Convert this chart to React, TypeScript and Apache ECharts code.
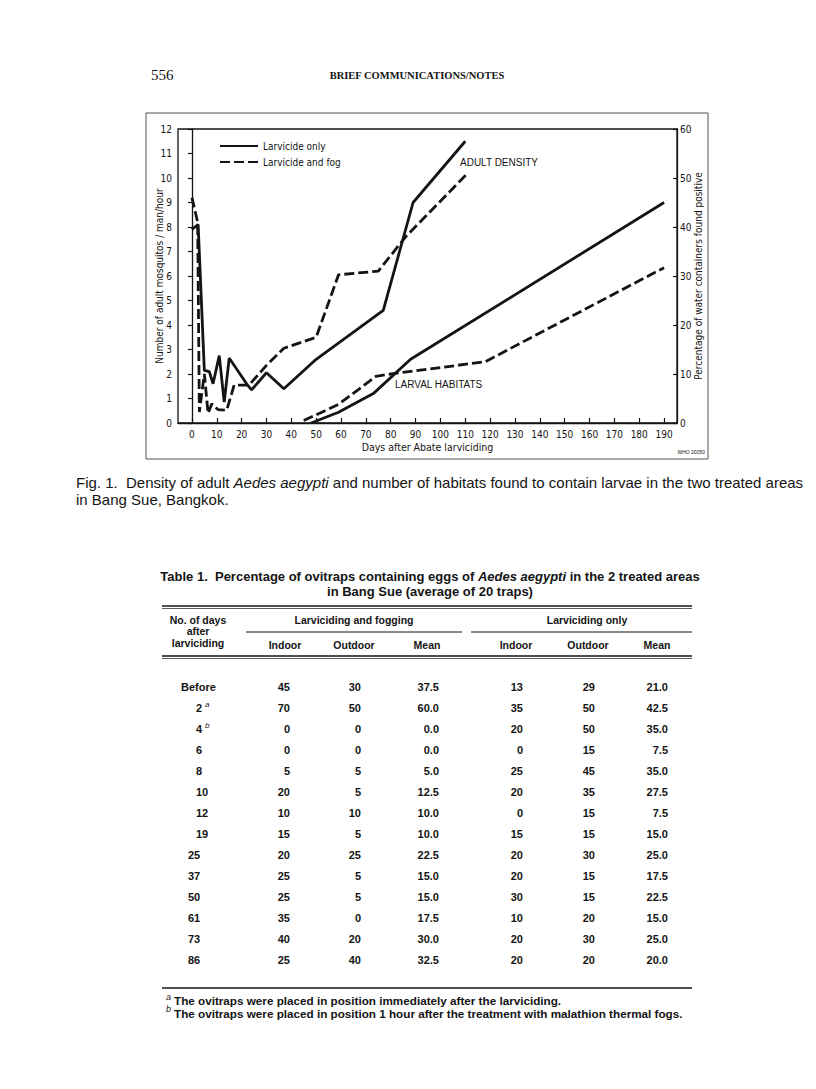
import React, { useEffect, useRef } from 'react';
import * as echarts from 'echarts';

// ---------- Figure data ----------
const tickDays = [0, 10, 20, 30, 40, 50, 60, 70, 80, 90, 100, 110, 120, 130, 140, 150, 160, 170, 180, 190];

// Adult density (left axis, number / man / hour)
const adultLarvicideOnly: [number, number][] = [
  [0, 7.9], [2.5, 8.1], [5, 2.15], [7, 2.1], [8.5, 1.6], [11, 2.75], [13, 0.85], [15, 2.65],
  [22, 1.6], [24, 1.35], [30, 2.05], [37, 1.4], [50, 2.6], [77, 4.6], [89, 9.0], [110, 11.5],
];
const adultLarvicideFog: [number, number][] = [
  [0, 9.2], [2.3, 8.2], [3, 0.45], [5, 2.0], [6.5, 0.4], [8, 0.78], [10.5, 0.55], [14, 0.52],
  [17, 1.55], [23, 1.55], [30, 2.35], [37, 3.05], [50, 3.5], [59, 6.05], [75, 6.2], [86, 7.6], [111, 10.2],
];
// Larval habitats (right axis, % of water containers found positive)
const larvalLarvicideOnly: [number, number][] = [
  [48, 0], [59, 2.2], [73, 6], [88, 13], [190, 45],
];
const larvalLarvicideFog: [number, number][] = [
  [45, 0.5], [59, 3.8], [74, 9.5], [80, 10], [118, 12.5], [190, 31.7],
];

// ---------- Table data ----------
const tableDays = ['Before', '2', '4', '6', '8', '10', '12', '19', '25', '37', '50', '61', '73', '86'];
const tableNotes = ['', 'a', 'b', '', '', '', '', '', '', '', '', '', '', ''];
const fogIndoor = [45, 70, 0, 0, 5, 20, 10, 15, 20, 25, 25, 35, 40, 25];
const fogOutdoor = [30, 50, 0, 0, 5, 5, 10, 5, 25, 5, 5, 0, 20, 40];
const fogMean = [37.5, 60.0, 0.0, 0.0, 5.0, 12.5, 10.0, 10.0, 22.5, 15.0, 15.0, 17.5, 30.0, 32.5];
const onlyIndoor = [13, 35, 20, 0, 25, 20, 0, 15, 20, 20, 30, 10, 20, 20];
const onlyOutdoor = [29, 50, 50, 15, 45, 35, 15, 15, 30, 15, 15, 20, 30, 20];
const onlyMean = [21.0, 42.5, 35.0, 7.5, 35.0, 27.5, 7.5, 15.0, 25.0, 17.5, 22.5, 15.0, 25.0, 20.0];
const subHeaders = ['Indoor', 'Outdoor', 'Mean', 'Indoor', 'Outdoor', 'Mean'];

const INK = '#141414';
const NARROW = "'Liberation Sans Narrow','DejaVu Sans Condensed','Roboto Condensed',sans-serif";
const SANS = "'Liberation Sans',Arial,Helvetica,sans-serif";
const SERIF = "'Liberation Serif','Times New Roman',serif";

function txt(x: number, y: number, text: string, o: any = {}) {
  return {
    type: 'text',
    silent: true,
    x,
    y,
    style: {
      text,
      fill: INK,
      fontFamily: o.fontFamily || SANS,
      fontSize: o.fontSize || 11,
      fontWeight: o.fontWeight || 'normal',
      fontStyle: o.fontStyle || 'normal',
      align: o.align || 'left',
      verticalAlign: 'middle',
      rich: o.rich,
    },
  };
}

function hline(x1: number, x2: number, y: number, w = 1) {
  return {
    type: 'line',
    silent: true,
    shape: { x1, y1: y, x2, y2: y },
    style: { stroke: INK, lineWidth: w },
  };
}

export default function App() {
  const ref = useRef<HTMLDivElement>(null);

  useEffect(() => {
    if (!ref.current) return;
    const chart = echarts.init(ref.current, undefined, { renderer: 'svg' });

    const graphics: any[] = [];
    // page header
    graphics.push(txt(151, 75, '556', { fontFamily: SERIF, fontSize: 15 }));
    graphics.push(txt(417, 75, 'BRIEF COMMUNICATIONS/NOTES', { fontFamily: SERIF, fontSize: 10.5, fontWeight: 'bold', align: 'center' }));
    // figure frame
    graphics.push({
      type: 'rect', silent: true,
      shape: { x: 146, y: 113, width: 562, height: 346 },
      style: { fill: 'none', stroke: '#555', lineWidth: 1 },
    });
    graphics.push(txt(460, 162, 'ADULT DENSITY', { fontSize: 10 }));
    graphics.push(txt(395, 384, 'LARVAL HABITATS', { fontSize: 10 }));
    graphics.push(txt(705, 452, 'WHO 20050', { fontSize: 5, align: 'right' }));

    // caption
    graphics.push(txt(76, 482, '{n|Fig. 1.  Density of adult }{i|Aedes aegypti}{n| and number of habitats found to contain larvae in the two treated areas}', {
      rich: {
        n: { fontFamily: SANS, fontSize: 15, fill: INK },
        i: { fontFamily: SANS, fontSize: 15, fontStyle: 'italic', fill: INK },
      },
    }));
    graphics.push(txt(76, 499, 'in Bang Sue, Bangkok.', { fontSize: 15 }));

    // table title
    graphics.push(txt(430, 576, '{n|Table 1.  Percentage of ovitraps containing eggs of }{i|Aedes aegypti}{n| in the 2 treated areas}', {
      align: 'center',
      rich: {
        n: { fontFamily: SANS, fontSize: 13, fontWeight: 'bold', fill: INK },
        i: { fontFamily: SANS, fontSize: 13, fontWeight: 'bold', fontStyle: 'italic', fill: INK },
      },
    }));
    graphics.push(txt(430, 591, 'in Bang Sue (average of 20 traps)', { fontSize: 13, fontWeight: 'bold', align: 'center' }));

    // table rules
    graphics.push(hline(162, 692, 606, 1.4));
    graphics.push(hline(162, 692, 608.5, 0.7));
    graphics.push(hline(246, 462, 632, 1));
    graphics.push(hline(471, 692, 632, 1));
    graphics.push(hline(162, 692, 656, 1.4));
    graphics.push(hline(162, 692, 658.5, 0.7));
    graphics.push(hline(162, 692, 988, 1.4));

    // table headers
    const hb = { fontSize: 10.5, fontWeight: 'bold' };
    graphics.push(txt(198, 620, 'No. of days', { ...hb, align: 'center' }));
    graphics.push(txt(198, 631, 'after', { ...hb, align: 'center' }));
    graphics.push(txt(198, 643, 'larviciding', { ...hb, align: 'center' }));
    graphics.push(txt(354, 620, 'Larviciding and fogging', { ...hb, align: 'center' }));
    graphics.push(txt(587, 620, 'Larviciding only', { ...hb, align: 'center' }));
    const subX = [285, 354, 427, 516, 588, 657];
    subHeaders.forEach((h, i) => graphics.push(txt(subX[i], 645, h, { ...hb, align: 'center' })));

    // table body
    const colRight = [290, 361, 439, 523, 595, 668];
    const cols = [
      fogIndoor.map(String), fogOutdoor.map(String), fogMean.map((v) => v.toFixed(1)),
      onlyIndoor.map(String), onlyOutdoor.map(String), onlyMean.map((v) => v.toFixed(1)),
    ];
    tableDays.forEach((d, r) => {
      const y = 687 + 21 * r;
      const dx = r === 0 ? 181 : r <= 7 ? 196 : 188;
      graphics.push(txt(dx, y, d, { fontSize: 11, fontWeight: 'bold' }));
      if (tableNotes[r]) {
        graphics.push(txt(dx + 9, y - 4, tableNotes[r], { fontSize: 8, fontStyle: 'italic' }));
      }
      cols.forEach((c, ci) => graphics.push(txt(colRight[ci], y, c[r], { fontSize: 11, fontWeight: 'bold', align: 'right' })));
    });

    // footnotes
    graphics.push(txt(166, 997, 'a', { fontSize: 9, fontStyle: 'italic' }));
    graphics.push(txt(174, 1000, 'The ovitraps were placed in position immediately after the larviciding.', { fontSize: 11.7, fontWeight: 'bold' }));
    graphics.push(txt(166, 1009, 'b', { fontSize: 9, fontStyle: 'italic' }));
    graphics.push(txt(174, 1013, 'The ovitraps were placed in position 1 hour after the treatment with malathion thermal fogs.', { fontSize: 11.7, fontWeight: 'bold' }));

    const axisLine = { show: true, lineStyle: { color: INK, width: 1.3 } };
    const axisLabel = { color: INK, fontFamily: NARROW, fontSize: 10 };
    const solid = { color: INK, width: 2.8, type: 'solid' as const };
    const dashed = { color: INK, width: 2.8, type: [10, 4] as any };

    chart.setOption({
      animation: false,
      backgroundColor: '#ffffff',
      grid: {
        left: 178, top: 129, width: 499, height: 294,
        show: true, borderColor: INK, borderWidth: 1.3, backgroundColor: 'transparent',
      },
      legend: {
        orient: 'vertical', left: 219, top: 141, padding: 0,
        itemWidth: 38, itemHeight: 10, itemGap: 6,
        data: ['Larvicide only', 'Larvicide and fog'],
        itemStyle: { opacity: 0, borderWidth: 0 },
        textStyle: { color: INK, fontFamily: NARROW, fontSize: 10 },
        selectedMode: false,
      },
      xAxis: {
        type: 'value', min: -5.6, max: 195.2,
        name: 'Days after Abate larviciding', nameLocation: 'middle', nameGap: 18, nameMoveOverlap: false,
        nameTextStyle: { color: INK, fontFamily: NARROW, fontSize: 10.5 },
        axisLine,
        axisTick: { show: true, inside: true, length: 5, customValues: tickDays, lineStyle: { color: INK, width: 1.2 } },
        axisLabel: { ...axisLabel, margin: 6, customValues: tickDays },
        splitLine: { show: false },
      },
      yAxis: [
        {
          type: 'value', min: 0, max: 12, interval: 1, position: 'left',
          name: 'Number of adult mosquitos / man/hour', nameLocation: 'middle', nameGap: 14, nameRotate: 90,
          nameMoveOverlap: false,
          nameTextStyle: { color: INK, fontFamily: NARROW, fontSize: 10 },
          axisLine, axisTick: { show: true, length: 4, lineStyle: { color: INK, width: 1.2 } },
          axisLabel: { ...axisLabel, margin: 6 },
          splitLine: { show: false },
        },
        {
          type: 'value', min: 0, max: 60, interval: 10, position: 'right',
          name: 'Percentage of water containers found positive', nameLocation: 'middle', nameGap: 16, nameRotate: 90,
          nameMoveOverlap: false,
          nameTextStyle: { color: INK, fontFamily: NARROW, fontSize: 10 },
          axisLine, axisTick: { show: true, inside: true, length: 4, lineStyle: { color: INK, width: 1.2 } },
          axisLabel: { ...axisLabel, margin: 3 },
          splitLine: { show: false },
        },
      ],
      series: [
        { name: 'Larvicide only', type: 'line', yAxisIndex: 0, data: adultLarvicideOnly, symbol: 'none', lineStyle: solid, itemStyle: { color: INK } },
        { name: 'Larvicide and fog', type: 'line', yAxisIndex: 0, data: adultLarvicideFog, symbol: 'none', lineStyle: dashed, itemStyle: { color: INK } },
        { name: 'Larvicide only', type: 'line', yAxisIndex: 1, data: larvalLarvicideOnly, symbol: 'none', lineStyle: solid, itemStyle: { color: INK } },
        { name: 'Larvicide and fog', type: 'line', yAxisIndex: 1, data: larvalLarvicideFog, symbol: 'none', lineStyle: dashed, itemStyle: { color: INK } },
      ],
      graphic: graphics,
    });

    return () => chart.dispose();
  }, []);

  return (
    <div
      ref={ref}
      style={{ position: 'fixed', left: 0, top: 0, width: 816, height: 1089, background: '#fff' }}
    />
  );
}
